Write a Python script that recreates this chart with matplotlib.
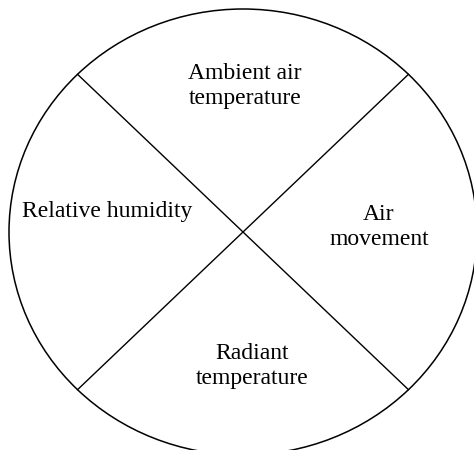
import matplotlib
matplotlib.use("Agg")
import matplotlib.pyplot as plt
from matplotlib.patches import Ellipse
import numpy as np

# Data: the four factors (categories) in the quadrant diagram
factors = ["Ambient air\ntemperature", "Air\nmovement", "Radiant\ntemperature", "Relative humidity"]

# Layout (pixel coordinates of a 474x450 canvas)
W, H = 474, 450
cx, cy = 243, 232
rx, ry = 234, 223
label_pos = [(245, 86), (379, 227), (252, 366), (107, 212)]

fig = plt.figure(figsize=(W / 100, H / 100), dpi=100)
ax = fig.add_axes([0, 0, 1, 1])
ax.set_xlim(0, W)
ax.set_ylim(H, 0)
ax.axis("off")

ax.add_patch(Ellipse((cx, cy), 2 * rx, 2 * ry, fill=False, edgecolor="black", lw=1.1))

for ang in (135, 45):
    t = np.deg2rad(ang)
    x1, y1 = cx + rx * np.cos(t), cy - ry * np.sin(t)
    x2, y2 = cx - rx * np.cos(t), cy + ry * np.sin(t)
    ax.plot([x1, x2], [y1, y2], color="black", lw=1.0)

for lab, (x, y) in zip(factors, label_pos):
    ax.text(x, y, lab, ha="center", va="center", fontsize=17,
            family="Liberation Serif", linespacing=1.3, color="black")

fig.savefig("out.png", dpi=100)
